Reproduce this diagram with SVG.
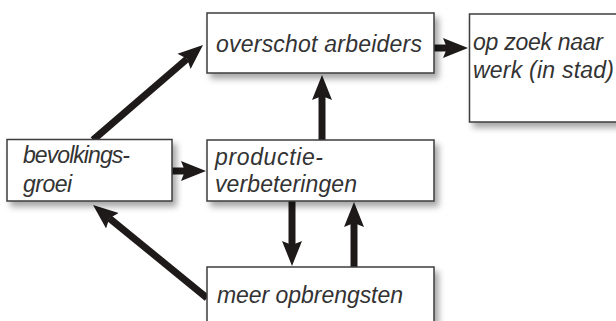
<svg xmlns="http://www.w3.org/2000/svg" width="616" height="321" viewBox="0 0 616 321">
<style>
.box{fill:#fff;stroke:#3c3c3c;stroke-width:1.5;filter:url(#sh)}
.t{font-family:"Liberation Sans",Arial,sans-serif;font-style:italic;font-size:23px;fill:#333}
.c{stroke:#1e1a1a;stroke-width:7;fill:none;marker-end:url(#ah)}
</style>
<defs>
<filter id="sh" x="-10%" y="-10%" width="130%" height="140%">
<feDropShadow dx="4" dy="5" stdDeviation="3" flood-color="#000" flood-opacity="0.35"/>
</filter>
<marker id="ah" markerUnits="userSpaceOnUse" markerWidth="32" markerHeight="24" viewBox="0 -12 32 24" refX="4" refY="0" orient="auto">
<path d="M0,-10 L25,0 L0,10 L4,0 z" fill="#1e1a1a"/>
</marker>
</defs>
<g id="connectors">
<line class="c" x1="93" y1="140" x2="187.1" y2="58.8"/>
<line class="c" x1="434" y1="48" x2="447" y2="48"/>
<line class="c" x1="322" y1="140" x2="322" y2="96"/>
<line class="c" x1="172" y1="171" x2="185" y2="171"/>
<line class="c" x1="292" y1="201" x2="292" y2="245"/>
<line class="c" x1="354" y1="267" x2="354" y2="223"/>
<line class="c" x1="207" y1="298" x2="109.3" y2="218.2"/>
</g>
<g id="overschot">
<rect class="box" x="207" y="13" width="227" height="60"/>
<text class="t" x="216" y="52" textLength="206">overschot arbeiders</text>
</g>
<g id="opzoek">
<rect class="box" x="469.5" y="14" width="150" height="108"/>
<text class="t" x="473" y="50" textLength="130">op zoek naar</text>
<text class="t" x="473" y="78" textLength="141">werk (in stad)</text>
</g>
<g id="bevolkingsgroei">
<rect class="box" x="7" y="139.5" width="165" height="61.5"/>
<text class="t" x="23" y="163" textLength="107">bevolkings-</text>
<text class="t" x="23" y="192" textLength="49">groei</text>
</g>
<g id="productie">
<rect class="box" x="207" y="140" width="227" height="61"/>
<text class="t" x="215" y="165" textLength="108">productie-</text>
<text class="t" x="215" y="192" textLength="142">verbeteringen</text>
</g>
<g id="opbrengsten">
<rect class="box" x="207" y="267" width="227" height="70"/>
<text class="t" x="217" y="303" textLength="186">meer opbrengsten</text>
</g>
</svg>
